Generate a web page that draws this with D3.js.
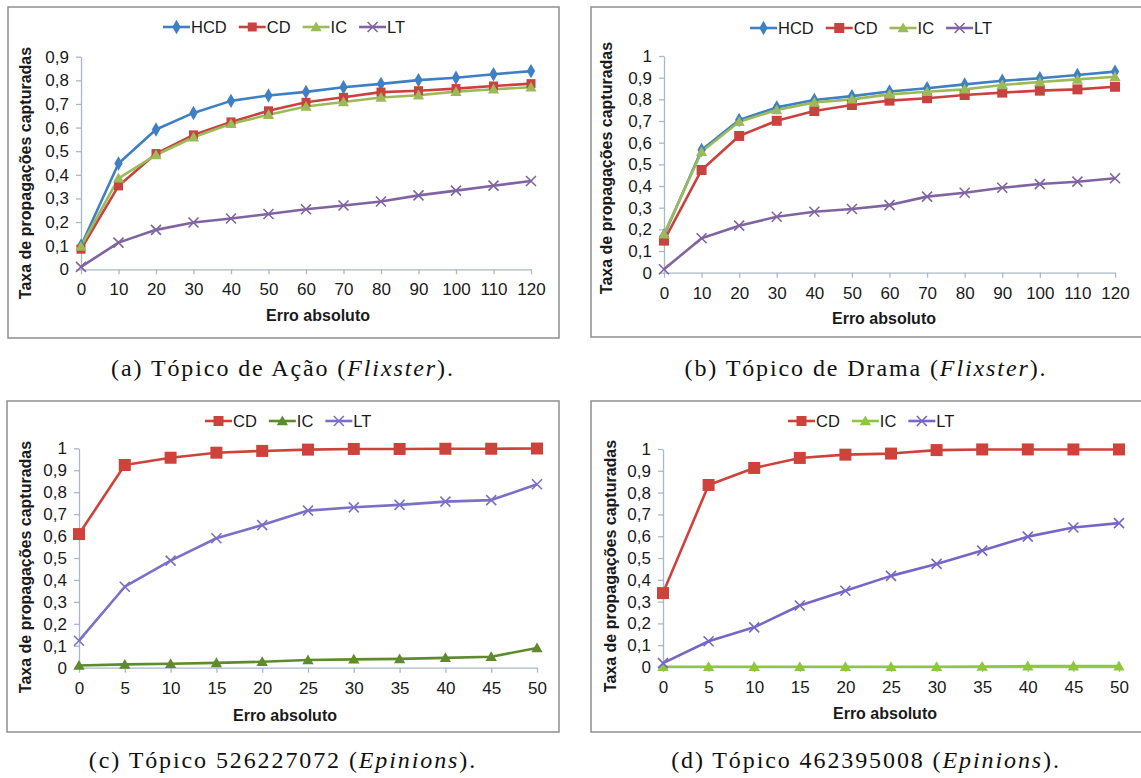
<!DOCTYPE html>
<html><head><meta charset="utf-8">
<script src="https://cdn.jsdelivr.net/npm/d3@7"></script>
<style>body{margin:0;background:#fff} svg{display:block}</style>
</head><body>
<svg id="c" width="1141" height="778"></svg>
<script>
// ---------- data ----------
const xFlixster = [0,10,20,30,40,50,60,70,80,90,100,110,120];
const xEpinions = [0,5,10,15,20,25,30,35,40,45,50];
const yTicks09 = [0,0.1,0.2,0.3,0.4,0.5,0.6,0.7,0.8,0.9];
const yTicks10 = [0,0.1,0.2,0.3,0.4,0.5,0.6,0.7,0.8,0.9,1];

// (a) Ação (Flixster)
const acaoHCD = [0.10,0.448,0.592,0.662,0.713,0.736,0.751,0.771,0.785,0.801,0.811,0.826,0.839];
const acaoCD  = [0.085,0.353,0.490,0.569,0.624,0.671,0.707,0.728,0.750,0.756,0.765,0.776,0.786];
const acaoIC  = [0.097,0.385,0.484,0.559,0.616,0.654,0.689,0.708,0.727,0.737,0.752,0.762,0.771];
const acaoLT  = [0.010,0.113,0.167,0.198,0.215,0.234,0.254,0.270,0.287,0.313,0.333,0.354,0.374];
// (b) Drama (Flixster)
const dramaHCD = [0.172,0.566,0.705,0.763,0.797,0.815,0.836,0.851,0.869,0.886,0.897,0.912,0.928];
const dramaCD  = [0.148,0.474,0.631,0.701,0.746,0.774,0.794,0.805,0.820,0.831,0.840,0.846,0.858];
const dramaIC  = [0.178,0.558,0.697,0.751,0.786,0.800,0.823,0.835,0.846,0.866,0.880,0.892,0.904];
const dramaLT  = [0.016,0.159,0.217,0.258,0.281,0.294,0.312,0.351,0.369,0.392,0.409,0.420,0.436];
// (c) Tópico 526227072 (Epinions)
const t526CD = [0.609,0.924,0.957,0.980,0.988,0.994,0.997,0.997,0.998,0.998,0.999];
const t526IC = [0.010,0.015,0.018,0.022,0.027,0.035,0.038,0.040,0.045,0.050,0.090];
const t526LT = [0.123,0.369,0.488,0.590,0.650,0.716,0.731,0.742,0.757,0.764,0.836];
// (d) Tópico 462395008 (Epinions)
const t462CD = [0.339,0.835,0.913,0.959,0.974,0.979,0.995,0.998,0.998,0.998,0.998];
const t462IC = [0.001,0.001,0.001,0.001,0.001,0.001,0.001,0.002,0.004,0.004,0.004];
const t462LT = [0.018,0.118,0.182,0.282,0.350,0.418,0.473,0.534,0.598,0.640,0.660];

const captions = [
  ["(a) Tópico de Ação (", "Flixster", ")."],
  ["(b) Tópico de Drama (", "Flixster", ")."],
  ["(c) Tópico 526227072 (", "Epinions", ")."],
  ["(d) Tópico 462395008 (", "Epinions", ")."]
];

// ---------- styles ----------
const C = {
  HCD:"#3f7fc3", CD:"#c8433f", IC:"#9bbb59", LT:"#8064a2",
  CDc:"#cf423b", ICc:"#5e8b2c", LTc:"#7a70c8",
  ICd:"#8dc63f", LTd:"#7866c6"
};

const panels = [
  {frame:[8,7,559,338], x0:81, x1:531, yb:269.3, yt:56.7, ymax:0.9, xs:xFlixster, yticks:yTicks09,
   series:[["HCD",acaoHCD,"diamond",C.HCD],["CD",acaoCD,"square",C.CD],["IC",acaoIC,"triangle",C.IC],["LT",acaoLT,"x",C.LT]],
   sq:9, legendX:163, legendY:27, xt:[318,315], yt2:[25,173], cap:captions[0], capX:283, capY:376},
  {frame:[591,7,1150,337], x0:664, x1:1115, yb:272.7, yt:56, ymax:1, xs:xFlixster, yticks:yTicks10,
   series:[["HCD",dramaHCD,"diamond",C.HCD],["CD",dramaCD,"square",C.CD],["IC",dramaIC,"triangle",C.IC],["LT",dramaLT,"x",C.LT]],
   sq:10, legendX:750, legendY:28, xt:[884,318], yt2:[606,168], cap:captions[1], capX:866, capY:376},
  {frame:[7,401,559,732], x0:79, x1:537, yb:667.7, yt:448.3, ymax:1, xs:xEpinions, yticks:yTicks10,
   series:[["CD",t526CD,"square",C.CDc],["IC",t526IC,"triangle",C.ICc],["LT",t526LT,"x",C.LTc]],
   sq:12, legendX:205, legendY:421, xt:[285,715], yt2:[25,567], cap:captions[2], capX:283, capY:768},
  {frame:[591,401,1150,732], x0:663, x1:1119, yb:667, yt:449, ymax:1, xs:xEpinions, yticks:yTicks10,
   series:[["CD",t462CD,"square",C.CDc],["IC",t462IC,"triangle",C.ICd],["LT",t462LT,"x",C.LTd]],
   sq:12, legendX:788, legendY:421, xt:[885,713], yt2:[610,566], cap:captions[3], capX:866, capY:768}
];

const svg = d3.select("#c");
const SANS = "'Liberation Sans', Arial, sans-serif";
const AXC = "#a9b8c8";
const fmt = d => (Math.round(d*10)/10).toString().replace(".", ",");

function marker(g, type, color, sq) {
  if (type === "diamond") {
    g.append("path").attr("d", d3.symbol(d3.symbolDiamond, 60)()).attr("fill", color);
  } else if (type === "square") {
    g.append("path").attr("d", d3.symbol(d3.symbolSquare, sq*sq)()).attr("fill", color);
  } else if (type === "triangle") {
    g.append("path").attr("d", d3.symbol(d3.symbolTriangle, 55)()).attr("transform","translate(0,1)").attr("fill", color);
  } else {
    g.append("path").attr("d", "M-5,-5L5,5M-5,5L5,-5").attr("stroke", color).attr("stroke-width", 1.6).attr("fill","none");
  }
}

panels.forEach(p => {
  const g = svg.append("g");
  const [fx0, fy0, fx1, fy1] = p.frame;
  g.append("rect").attr("x", fx0).attr("y", fy0).attr("width", fx1-fx0).attr("height", fy1-fy0)
    .attr("fill", "#fff").attr("stroke", "#8f8f8f").attr("stroke-width", 1.5);

  const x = d3.scaleLinear().domain([p.xs[0], p.xs[p.xs.length-1]]).range([p.x0, p.x1]);
  const y = d3.scaleLinear().domain([0, p.ymax]).range([p.yb, p.yt]);

  // axes
  const xa = g.append("g").attr("transform", `translate(0,${p.yb})`)
    .call(d3.axisBottom(x).tickValues(p.xs).tickSize(5).tickSizeOuter(0).tickPadding(5).tickFormat(d => d));
  const ya = g.append("g").attr("transform", `translate(${p.x0},0)`)
    .call(d3.axisLeft(y).tickValues(p.yticks).tickSize(5).tickSizeOuter(0).tickPadding(7).tickFormat(fmt));
  [xa, ya].forEach(a => {
    a.select(".domain").attr("stroke", AXC).attr("stroke-width", 1.3);
    a.selectAll(".tick line").attr("stroke", AXC).attr("stroke-width", 1.3);
    a.selectAll("text").attr("font-family", SANS).attr("font-size", 17).attr("fill", "#1a1a1a");
  });
  xa.selectAll("text").attr("dy", "0.95em");

  // series
  const line = d3.line().x((d,i) => x(p.xs[i])).y(d => y(d));
  p.series.forEach(([name, vals, type, color]) => {
    g.append("path").datum(vals).attr("d", line).attr("fill", "none")
      .attr("stroke", color).attr("stroke-width", 2.6).attr("stroke-linejoin", "round");
  });
  p.series.forEach(([name, vals, type, color]) => {
    vals.forEach((v, i) => {
      const m = g.append("g").attr("transform", `translate(${x(p.xs[i])},${y(v)})`);
      marker(m, type, color, p.sq);
    });
  });

  // legend
  let lx = p.legendX;
  p.series.forEach(([name, vals, type, color]) => {
    const lg = g.append("g");
    lg.append("line").attr("x1", lx).attr("x2", lx+27).attr("y1", p.legendY).attr("y2", p.legendY)
      .attr("stroke", color).attr("stroke-width", 2.6);
    const m = lg.append("g").attr("transform", `translate(${lx+13.5},${p.legendY})`);
    marker(m, type, color, Math.min(p.sq, 10));
    const t = lg.append("text").attr("x", lx+28).attr("y", p.legendY).attr("dy", "0.36em")
      .attr("font-family", SANS).attr("font-size", 16.5).attr("fill", "#1a1a1a").text(name);
    lx += 28 + t.node().getComputedTextLength() + 12;
  });

  // axis titles
  g.append("text").attr("x", p.xt[0]).attr("y", p.xt[1]).attr("dy", "0.36em").attr("text-anchor", "middle")
    .attr("font-family", SANS).attr("font-weight", "bold").attr("font-size", 16).attr("fill", "#1a1a1a")
    .text("Erro absoluto");
  g.append("text").attr("transform", `translate(${p.yt2[0]},${p.yt2[1]}) rotate(-90)`).attr("dy", "0.36em")
    .attr("text-anchor", "middle").attr("font-family", SANS).attr("font-weight", "bold").attr("font-size", 16)
    .attr("fill", "#1a1a1a").text("Taxa de propagações capturadas");

  // caption
  const cap = svg.append("text").attr("x", p.capX).attr("y", p.capY).attr("text-anchor", "middle")
    .attr("font-family", "'Liberation Serif', 'DejaVu Serif', serif").attr("font-size", 24).attr("fill", "#111")
    .attr("letter-spacing", 1.9);
  cap.append("tspan").text(p.cap[0]);
  cap.append("tspan").attr("font-style", "italic").text(p.cap[1]);
  cap.append("tspan").text(p.cap[2]);
});
</script>
</body></html>
